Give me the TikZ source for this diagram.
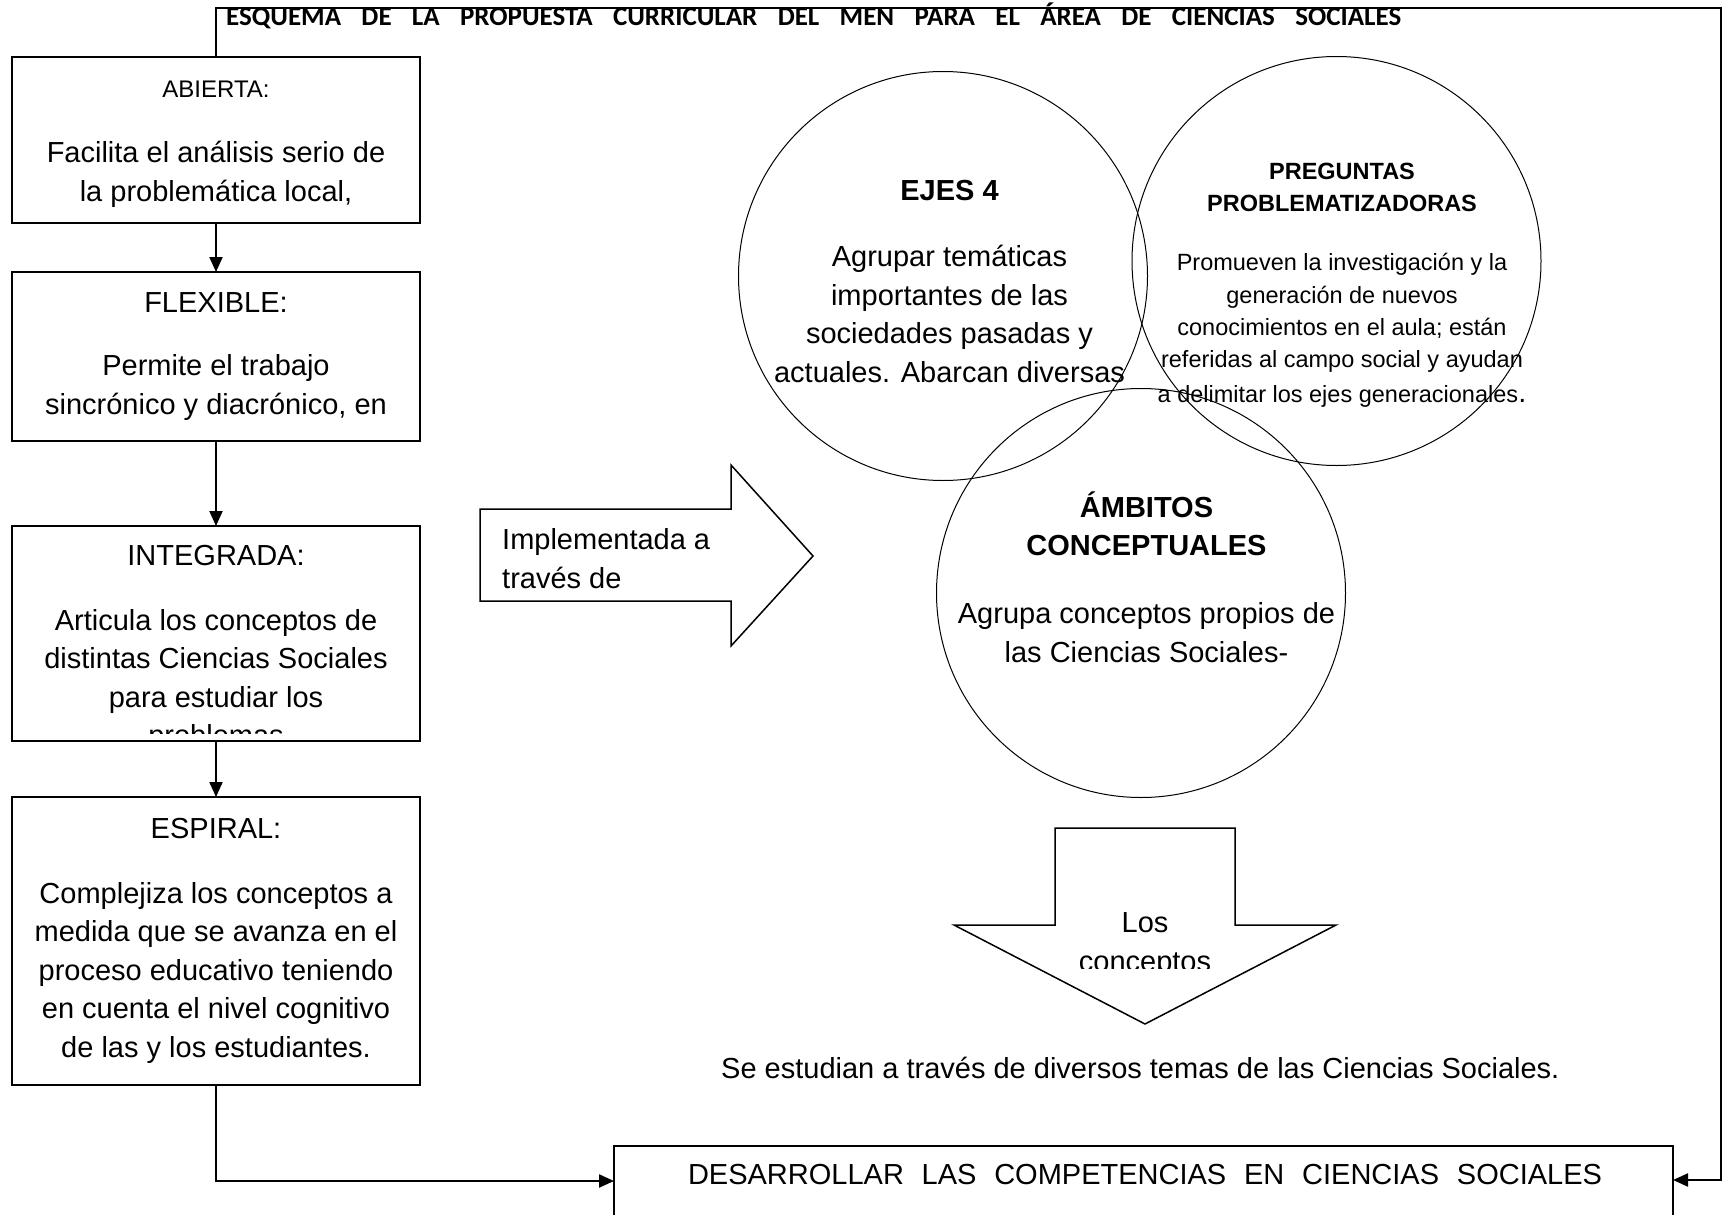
\documentclass[tikz,border=0pt]{standalone}
\usepackage{fontspec}
\setmainfont{Liberation Sans}
\newfontfamily\titlefont{Carlito}
\usetikzlibrary{arrows.meta}
\begin{document}
\begin{tikzpicture}[x=1pt,y=-1pt,
  box/.style={draw, line width=2pt, minimum width=408pt, inner sep=0pt, outer sep=0pt},
  ring/.style={draw, circle, line width=1pt, minimum size=409pt, inner sep=0pt, outer sep=0pt},
  conn/.style={line width=2pt, -{Triangle[length=15pt,width=13pt]}},
  body/.style={anchor=base, inner sep=0pt, font=\fontsize{29}{35}\selectfont},
  bodyw/.style={anchor=base west, inner sep=0pt, font=\fontsize{29}{35}\selectfont},
  bodyb/.style={anchor=base, inner sep=0pt, font=\fontsize{29}{35}\selectfont\bfseries},
  lab/.style={anchor=base, inner sep=0pt, font=\fontsize{24}{29}\selectfont},
  small/.style={anchor=base, inner sep=0pt, font=\fontsize{23.5}{28}\selectfont},
  smallb/.style={anchor=base, inner sep=0pt, font=\fontsize{23.5}{28}\selectfont\bfseries},
  blockarrow/.style={draw, line width=1.5pt, line join=miter}]
\useasboundingbox (0,0) rectangle (1727,1215);
\fill[white] (0,0) rectangle (1727,1215);
\clip (0,0) rectangle (1727,1215);

% title
\node[anchor=base west, inner sep=0pt] (title) at (226,25.5)
  {\makebox[1175pt][s]{\titlefont\bfseries\fontsize{27}{31}\selectfont ESQUEMA DE LA PROPUESTA CURRICULAR DEL MEN PARA EL ÁREA DE CIENCIAS SOCIALES}};

% left column boxes
\node[box, minimum height=166pt] (abierta) at (216,140) {};
\node[box, minimum height=169pt] (flexible) at (216,356.5) {};
\node[box, minimum height=215pt] (integrada) at (216,633.5) {};
\node[box, minimum height=288pt] (espiral) at (216,941) {};

\node[lab] (abT) at (216,97) {ABIERTA:};
\node[body] (ab1) at (216,162.5) {Facilita el análisis serio de};
\node[body] (ab2) at (216,201) {la problemática local,};

\node[body] (flT) at (216,312) {FLEXIBLE:};
\node[body] (fl1) at (216,375.5) {Permite el trabajo};
\node[body] (fl2) at (216,414) {sincrónico y diacrónico, en};

\node[body] (inT) at (216,565.5) {INTEGRADA:};
\node[body] (in1) at (216,630) {Articula los conceptos de};
\node[body] (in2) at (216,668.5) {distintas Ciencias Sociales};
\node[body] (in3) at (216,707) {para estudiar los};
\begin{scope}
  \clip (14,600) rectangle (418,733);
  \node[body] (in4) at (216,745.5) {problemas};
\end{scope}

\node[body] (esT) at (216,838.5) {ESPIRAL:};
\node[body] (es1) at (216,903) {Complejiza los conceptos a};
\node[body] (es2) at (216,941.5) {medida que se avanza en el};
\node[body] (es3) at (216,980) {proceso educativo teniendo};
\node[body] (es4) at (216,1018.5) {en cuenta el nivel cognitivo};
\node[body] (es5) at (216,1057) {de las y los estudiantes.};

% connectors in left column
\draw[conn] (abierta) -- (flexible);
\draw[conn] (flexible) -- (integrada);
\draw[conn] (integrada) -- (espiral);

% bottom box
\node[box, minimum width=1059pt, minimum height=108pt] (desa) at (1143.5,1200) {};
\node[anchor=base, inner sep=0pt, font=\fontsize{29}{35}\selectfont] (desaT) at (1145,1184)
  {\makebox[914pt][s]{DESARROLLAR LAS COMPETENCIAS EN CIENCIAS SOCIALES}};

\coordinate (tl) at (216,8);
\coordinate (tr) at (1721,8);
\coordinate (rb) at (1721,1180);
\coordinate (desaR) at (1673,1180);
\coordinate (lb) at (216,1181);
\coordinate (desaL) at (614,1181);
\draw[conn, line width=2.2pt] (abierta.north) -- (tl) -- (tr) -- (rb) -- (desaR);
\draw[conn, line width=2.2pt] (espiral.south) -- (lb) -- (desaL);

% right block arrow
\draw[blockarrow] (480,509) -- (731,509) -- (731,465) -- (813,556) -- (731,646) -- (731,601) -- (480,601) -- cycle;
\node[bodyw] (imp1) at (502,549.5) {Implementada a};
\node[bodyw] (imp2) at (502,588.5) {través de};

% circles
\node[ring] (ejes) at (943,276) {};
\node[ring] (preg) at (1336.5,261) {};
\node[ring] (ambi) at (1141,593) {};

\node[bodyb] (ejT) at (949.5,200) {EJES 4};
\node[body] (ej1) at (949.5,266.7) {Agrupar temáticas};
\node[body] (ej2) at (949.5,305) {importantes de las};
\node[body] (ej3) at (949.5,343.5) {sociedades pasadas y};
\node[body] (ej4) at (949.5,382) {actuales. Abarcan diversas};

\node[smallb] (prT1) at (1342,179) {PREGUNTAS};
\node[smallb] (prT2) at (1342,211.5) {PROBLEMATIZADORAS};
\node[small] (pr1) at (1342,270.5) {Promueven la investigación y la};
\node[small] (pr2) at (1342,303) {generación de nuevos};
\node[small] (pr3) at (1342,335) {conocimientos en el aula; están};
\node[small] (pr4) at (1342,367) {referidas al campo social y ayudan};
\node[small] (pr5) at (1342,402) {a delimitar los ejes generacionales{\fontsize{29}{35}\selectfont.}};

\node[bodyb] (amT1) at (1146.5,517) {ÁMBITOS};
\node[bodyb] (amT2) at (1146.5,555.5) {CONCEPTUALES};
\node[body] (am1) at (1146.5,623.5) {Agrupa conceptos propios de};
\node[body] (am2) at (1146.5,662) {las Ciencias Sociales-};

% down block arrow
\draw[blockarrow] (1055,828) -- (1235,828) -- (1235,925) -- (1336,925) -- (1145,1024) -- (954,925) -- (1055,925) -- cycle;
\node[body] (los1) at (1145,932) {Los};
\begin{scope}
  \clip (954,940) rectangle (1336,968);
  \node[body] (los2) at (1145,971) {conceptos};
\end{scope}

\begin{scope}
  \clip (700,1040) rectangle (1620,1079.5);
  \node[bodyw] (se) at (721,1078) {Se estudian a través de diversos temas de las Ciencias Sociales.};
\end{scope}
\end{tikzpicture}
\end{document}
